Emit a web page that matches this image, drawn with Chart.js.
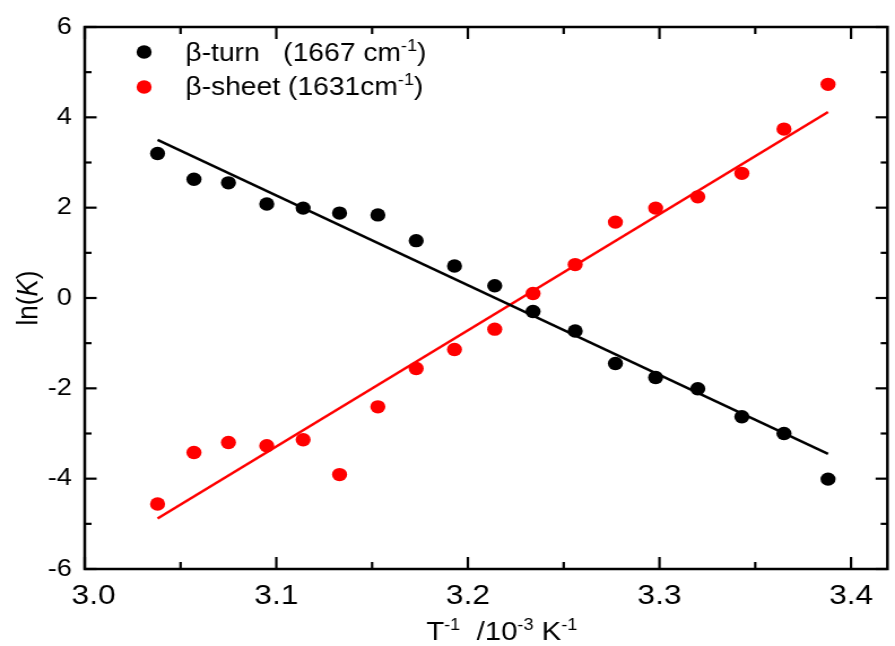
<!DOCTYPE html>
<html>
<head>
<meta charset="utf-8">
<script src="https://cdn.jsdelivr.net/npm/chart.js@4.4.0/dist/chart.umd.min.js"></script>
<style>
  html, body { margin: 0; padding: 0; background: #fff; }
  canvas { display: block; }
</style>
</head>
<body>
<!-- a figura original esta esticada na horizontal: desenha a 792 e mostra a 895 -->
<canvas id="grafico" width="792" height="646" style="width:895px;height:646px"></canvas>
<script>
// valores
const temp_inv = [3.038, 3.057, 3.075, 3.095, 3.114, 3.133, 3.153, 3.173, 3.193, 3.214, 3.234, 3.256, 3.277, 3.298, 3.320, 3.343, 3.365, 3.388]
const ln_k_turn = [3.20, 2.63, 2.55, 2.08, 1.99, 1.88, 1.84, 1.27, 0.71, 0.27, -0.30, -0.73, -1.45, -1.76, -2.01, -2.63, -3.00, -4.01]
const ln_k_sheet = [-4.56, -3.42, -3.20, -3.27, -3.14, -3.91, -2.41, -1.56, -1.14, -0.69, 0.10, 0.74, 1.68, 1.99, 2.24, 2.76, 3.74, 4.73]

// retas de ajuste (extremos)
const ajuste_x = [3.038, 3.388]
const ajuste_turn = [3.50, -3.45]
const ajuste_sheet = [-4.88, 4.12]

const x_ticks = [3.0, 3.1, 3.2, 3.3, 3.4]
const x_minor = [3.05, 3.15, 3.25, 3.35]
const y_ticks = [-6, -4, -2, 0, 2, 4, 6]
const y_minor = [-5, -3, -1, 1, 3, 5]

// textos com sobrescrito: [texto, sobrescrito?]
const legenda_turn = [['\u03b2-turn   (1667 cm', 0], ['-1', 1], [')', 0]]
const legenda_sheet = [['\u03b2-sheet (1631cm', 0], ['-1', 1], [')', 0]]
const titulo_x = [['T', 0], ['-1', 1], ['  /10', 0], ['-3', 1], [' K', 0], ['-1', 1]]

const fonte = '"Liberation Sans", Arial, sans-serif'

const pares = (xs, ys) => xs.map((v, i) => ({ x: v, y: ys[i] }))

const escrever = (ctx, partes, x, y, tam) => {
  let cx = x
  partes.forEach(([txt, sup]) => {
    ctx.font = `${sup ? Math.round(tam * 0.62) : tam}px ${fonte}`
    ctx.fillText(txt, cx, sup ? y - tam * 0.4 : y)
    cx += ctx.measureText(txt).width
  })
}

const largura = (ctx, partes, tam) => {
  let w = 0
  partes.forEach(([txt, sup]) => {
    ctx.font = `${sup ? Math.round(tam * 0.62) : tam}px ${fonte}`
    w += ctx.measureText(txt).width
  })
  return w
}

const moldura = {
  id: 'moldura',
  afterDraw(chart) {
    const { ctx, chartArea: a, scales: { x, y } } = chart
    ctx.save()
    ctx.strokeStyle = '#000'
    ctx.lineWidth = 2.5
    ctx.lineCap = 'butt'
    ctx.strokeRect(a.left, a.top, a.right - a.left, a.bottom - a.top)

    const traco = (x1, y1, x2, y2) => {
      ctx.beginPath()
      ctx.moveTo(x1, y1)
      ctx.lineTo(x2, y2)
      ctx.stroke()
    }
    ctx.lineWidth = 2.2
    x_ticks.forEach(v => {
      const px = x.getPixelForValue(v)
      traco(px, a.bottom, px, a.bottom - 12)
      traco(px, a.top, px, a.top + 12)
    })
    x_minor.forEach(v => {
      const px = x.getPixelForValue(v)
      traco(px, a.bottom, px, a.bottom - 7)
      traco(px, a.top, px, a.top + 7)
    })
    y_ticks.forEach(v => {
      const py = y.getPixelForValue(v)
      traco(a.left, py, a.left + 10.5, py)
      traco(a.right, py, a.right - 10.5, py)
    })
    y_minor.forEach(v => {
      const py = y.getPixelForValue(v)
      traco(a.left, py, a.left + 6, py)
      traco(a.right, py, a.right - 6, py)
    })

    // legenda
    ctx.fillStyle = '#000'
    ctx.beginPath(); ctx.arc(127.5, 52, 6.7, 0, Math.PI * 2); ctx.fill()
    ctx.fillStyle = '#ff0000'
    ctx.beginPath(); ctx.arc(127.5, 87, 6.7, 0, Math.PI * 2); ctx.fill()
    ctx.fillStyle = '#000'
    ctx.textBaseline = 'alphabetic'
    ctx.textAlign = 'left'
    escrever(ctx, legenda_turn, 164, 61, 25)
    escrever(ctx, legenda_sheet, 164, 95, 25)

    // titulo eixo x
    const wx = largura(ctx, titulo_x, 26)
    escrever(ctx, titulo_x, 444 - wx / 2, 640, 26)

    // titulo eixo y
    ctx.save()
    ctx.translate(32.5, 298)
    ctx.rotate(-Math.PI / 2)
    ctx.font = `26px ${fonte}`
    const w1 = ctx.measureText('ln(').width
    ctx.font = `italic 26px ${fonte}`
    const w2 = ctx.measureText('K').width
    ctx.font = `26px ${fonte}`
    const w3 = ctx.measureText(')').width
    const cx = -(w1 + w2 + w3) / 2
    ctx.fillText('ln(', cx, 0)
    ctx.font = `italic 26px ${fonte}`
    ctx.fillText('K', cx + w1, 0)
    ctx.font = `26px ${fonte}`
    ctx.fillText(')', cx + w1 + w2, 0)
    ctx.restore()

    ctx.restore()
  }
}

new Chart(document.getElementById('grafico'), {
  type: 'scatter',
  data: {
    datasets: [
      {
        label: 'β-turn (1667 cm-1)', data: pares(temp_inv, ln_k_turn),
        backgroundColor: '#000', borderColor: '#000', pointRadius: 6.7, pointBorderWidth: 0
      },
      {
        label: 'β-sheet (1631cm-1)', data: pares(temp_inv, ln_k_sheet),
        backgroundColor: '#ff0000', borderColor: '#ff0000', pointRadius: 6.7, pointBorderWidth: 0
      },
      {
        label: 'ajuste turn', data: pares(ajuste_x, ajuste_turn), showLine: true,
        borderColor: '#000', borderWidth: 2.5, pointRadius: 0
      },
      {
        label: 'ajuste sheet', data: pares(ajuste_x, ajuste_sheet), showLine: true,
        borderColor: '#ff0000', borderWidth: 2.5, pointRadius: 0
      }
    ]
  },
  options: {
    responsive: false,
    animation: false,
    devicePixelRatio: 1,
    layout: { padding: { top: 27, right: 1, left: 0, bottom: 0 } },
    plugins: { legend: { display: false }, tooltip: { enabled: false } },
    scales: {
      x: {
        type: 'linear', min: 3.0, max: 3.419,
        afterBuildTicks: s => { s.ticks = x_ticks.map(v => ({ value: v })) },
        afterFit: s => { s.height = 77 },
        grid: { display: false, drawTicks: false },
        border: { display: false },
        ticks: {
          color: '#000', padding: 10, maxRotation: 0,
          font: { family: fonte, size: 28 },
          // o rotulo 3.0 aparece um pouco deslocado para a direita no original
          callback: v => (v === 3.0 ? '  ' : '') + v.toFixed(1)
        }
      },
      y: {
        type: 'linear', min: -6, max: 6,
        afterBuildTicks: s => { s.ticks = y_ticks.map(v => ({ value: v })) },
        afterFit: s => { s.width = 75 },
        grid: { display: false, drawTicks: false },
        border: { display: false },
        ticks: {
          color: '#000', padding: 11.5,
          font: { family: fonte, size: 24 },
          callback: v => String(v)
        }
      }
    }
  },
  plugins: [moldura]
})
</script>
</body>
</html>
